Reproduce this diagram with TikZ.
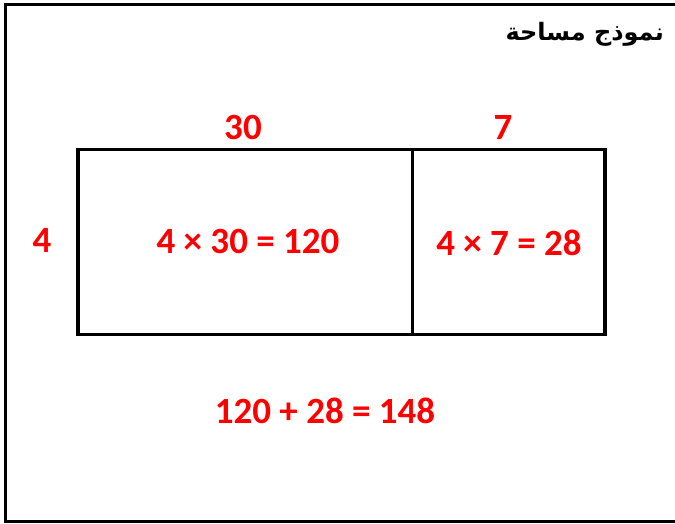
\documentclass[tikz,border=0pt]{standalone}
\usepackage{fontspec}
\setmainfont{Carlito}
\newfontfamily\arabicfont[Script=Arabic]{DejaVu Sans}
\TeXXeTstate=1
\begin{document}
\begin{tikzpicture}[x=1pt,y=-1pt,
  frame/.style={line width=3pt,black},
  box/.style={draw=black,line width=3.5pt,inner sep=0pt,minimum height=185pt},
  redlbl/.style={text=red,font=\fontsize{37}{40}\selectfont\bfseries,inner sep=0pt,anchor=center}]
\useasboundingbox (0,0) rectangle (675,523);
\fill[white] (0,0) rectangle (675,523);
\coordinate (ftr) at (676,4.5);
\coordinate (ftl) at (5.5,4.5);
\coordinate (fbl) at (5.5,521);
\coordinate (fbr) at (676,521);
\draw[frame] (ftr) -- (ftl) -- (fbl) -- (fbr);
\node[font=\arabicfont\bfseries\fontsize{24}{28}\selectfont,anchor=east,inner sep=0pt] (title) at (664,34) {\beginR نموذج مساحة\endR};
\node[box,minimum width=334.5pt] (left) at (245.25,242) {};
\node[box,minimum width=192.5pt] (right) at (508.75,242) {};
\node[redlbl] (t30) at (243,127) {30};
\node[redlbl] (t7) at (503,127) {7};
\node[redlbl] (t4) at (42,240) {4};
\node[redlbl] (p1) at (248,241) {4 × 30 = 120};
\node[redlbl] (p2) at (509,243) {4 × 7 = 28};
\node[redlbl] (sum) at (325,411) {120 + 28 = 148};
\end{tikzpicture}
\end{document}
